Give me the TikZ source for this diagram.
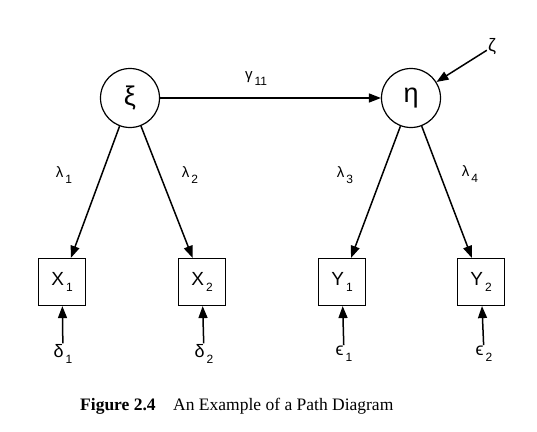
\documentclass[tikz,border=0pt]{standalone}
\usepackage{fontspec}
\setmainfont{Liberation Serif}
\newfontfamily\grk{Liberation Sans}
\usepackage{tikz}
\usetikzlibrary{arrows.meta,positioning}
\newcommand{\low}[1]{\raisebox{-6pt}{\fontsize{12}{12}\selectfont\,#1}}
\tikzset{
  latent/.style={draw, circle, line width=1.2pt, minimum size=59pt, inner sep=0pt, font=\grk\fontsize{27}{27}\selectfont},
  manifest/.style={draw, line width=1.2pt, minimum size=47pt, inner sep=0pt, font=\grk\fontsize{19}{19}\selectfont},
  coef/.style={inner sep=1pt, font=\grk\fontsize{15}{15}\selectfont},
  err/.style={inner sep=1pt, font=\grk\fontsize{18}{18}\selectfont},
  arr/.style={-{Triangle[length=12pt,width=9pt]}, line width=1.5pt}
}
\begin{document}
\begin{tikzpicture}[x=1pt,y=-1pt]
\useasboundingbox (0,0) rectangle (537,431);
\node[latent] (xi) at (130,98) {ξ};
\node[latent] (eta) at (411,98) {η};
\node[manifest] (x1) at (62,282) {X\low{1}};
\node[manifest] (x2) at (202,282) {X\low{2}};
\node[manifest] (y1) at (342,282) {Y\low{1}};
\node[manifest] (y2) at (481,282) {Y\low{2}};
\node[err] (zeta) at (492,47) {ζ};
\node[err] (d1) at (63,354) {δ\low{1}};
\node[err] (d2) at (204,354) {δ\low{2}};
\node[err] (e1) at (344,354) {ϵ\low{1}};
\node[err] (e2) at (484,354) {ϵ\low{2}};
% coefficients
\node[coef] (g11) at (256,79) {γ\low{11}};
\node[coef] (l1) at (64,175) {λ\low{1}};
\node[coef] (l2) at (190,175) {λ\low{2}};
\node[coef] (l3) at (345,175) {λ\low{3}};
\node[coef] (l4) at (470,174) {λ\low{4}};
\draw[arr] (xi) -- (eta);
\draw[arr] (zeta) -- (eta);
\draw[arr] (xi) -- (x1); \draw[arr] (xi) -- (x2);
\draw[arr] (eta) -- (y1); \draw[arr] (eta) -- (y2);
\draw[arr] (d1) -- (x1); \draw[arr] (d2) -- (x2);
\draw[arr] (e1) -- (y1); \draw[arr] (e2) -- (y2);
% caption
\node[anchor=base west, inner sep=0pt, font=\fontsize{17.5}{17.5}\selectfont] (cap) at (80,410) {\textbf{Figure 2.4}\hspace{1em}An Example of a Path Diagram};
\end{tikzpicture}
\end{document}
